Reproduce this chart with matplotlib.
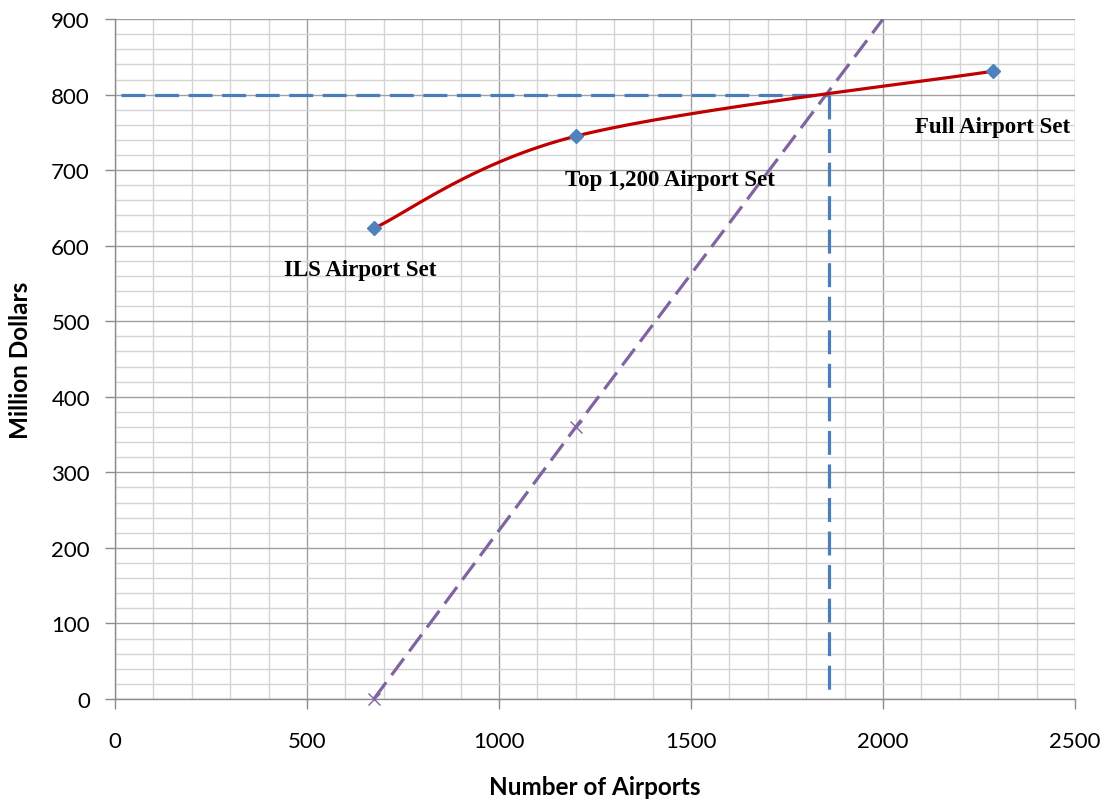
import numpy as np
import matplotlib
matplotlib.use("Agg")
import matplotlib.pyplot as plt
from matplotlib.ticker import MultipleLocator

# Cost curve for the three airport sets
set_airports = [674, 1200, 2286]
set_cost = [623, 745, 831]
set_names = ["ILS Airport Set", "Top 1,200 Airport Set", "Full Airport Set"]
label_x = [638, 1445, 2286]
label_y = [569, 688, 758]

# Budget line (dashed purple)
budget_airports = [674, 1200, 2000]
budget_cost = [0, 360, 900]

# Break-even reference
breakeven_x = 1860
breakeven_y = 800


def smooth_curve(xs, ys, n=60):
    """Piecewise cubic Bezier through the points, Excel-style smoothing."""
    pts = np.column_stack([xs, ys]).astype(float)
    out = [pts[0]]
    for i in range(len(pts) - 1):
        p0 = pts[max(i - 1, 0)]
        p1 = pts[i]
        p2 = pts[i + 1]
        p3 = pts[min(i + 2, len(pts) - 1)]
        c1 = p1 + (p2 - p0) / 6.0
        c2 = p2 - (p3 - p1) / 6.0
        t = np.linspace(0, 1, n)[1:, None]
        seg = ((1 - t) ** 3) * p1 + 3 * ((1 - t) ** 2) * t * c1 + 3 * (1 - t) * t ** 2 * c2 + t ** 3 * p2
        out.extend(seg)
    out = np.array(out)
    return out[:, 0], out[:, 1]


fig = plt.figure(figsize=(11.10, 8.03), dpi=100)
ax = fig.add_axes([0.1036, 0.1283, 0.8649, 0.8467])

ax.set_xlim(0, 2500)
ax.set_ylim(0, 900)
ax.xaxis.set_major_locator(MultipleLocator(500))
ax.xaxis.set_minor_locator(MultipleLocator(100))
ax.yaxis.set_major_locator(MultipleLocator(100))
ax.yaxis.set_minor_locator(MultipleLocator(20))

ax.grid(which="minor", color="#d4d4d4", linewidth=1.0)
ax.grid(which="major", color="#a0a0a0", linewidth=1.0)
ax.set_axisbelow(True)

for side in ["top", "right"]:
    ax.spines[side].set_visible(False)
for side in ["left", "bottom"]:
    ax.spines[side].set_color("#8c8c8c")
    ax.spines[side].set_linewidth(1.0)

ax.tick_params(which="major", length=7, color="#8c8c8c", width=1.0,
               labelsize=16)
ax.tick_params(which="minor", length=0)
ax.tick_params(axis="y", pad=11)
ax.tick_params(axis="x", pad=16)
for lab in ax.get_xticklabels() + ax.get_yticklabels():
    lab.set_family("Lato")

# Break-even guide lines
ax.plot([15, breakeven_x], [breakeven_y, breakeven_y], color="#4a7ebb",
        linewidth=2.3, dashes=(7.5, 3.0), zorder=3)
ax.plot([breakeven_x, breakeven_x], [breakeven_y, 0], color="#4a7ebb",
        linewidth=2.3, dashes=(7.5, 3.0), zorder=3)

# Budget line
ax.plot(budget_airports, budget_cost, color="#8064a2", linewidth=2.3,
        dashes=(6.5, 2.8), zorder=4)
ax.plot(budget_airports[:2], budget_cost[:2], linestyle="none", marker="x",
        markersize=9, markeredgewidth=1.0, color="#8064a2", zorder=5, clip_on=False)

# Cost curve
cx, cy = smooth_curve(set_airports, set_cost)
ax.plot(cx, cy, color="#c00000", linewidth=2.3, zorder=5)
ax.plot(set_airports, set_cost, linestyle="none", marker="D", markersize=7,
        color="#4f81bd", zorder=6, clip_on=False)

for name, tx, ty in zip(set_names, label_x, label_y):
    ax.text(tx, ty, name, ha="center", va="center", fontsize=16.5,
            fontweight="bold", family="Liberation Serif", color="#000000", zorder=7)

ax.set_xlabel("Number of Airports", fontsize=17.5, fontweight="bold",
              family="Lato", labelpad=17)
ax.set_ylabel("Million Dollars", fontsize=17.5, fontweight="bold",
              family="Lato", labelpad=14)

fig.savefig("out.png", dpi=100, facecolor="white")
